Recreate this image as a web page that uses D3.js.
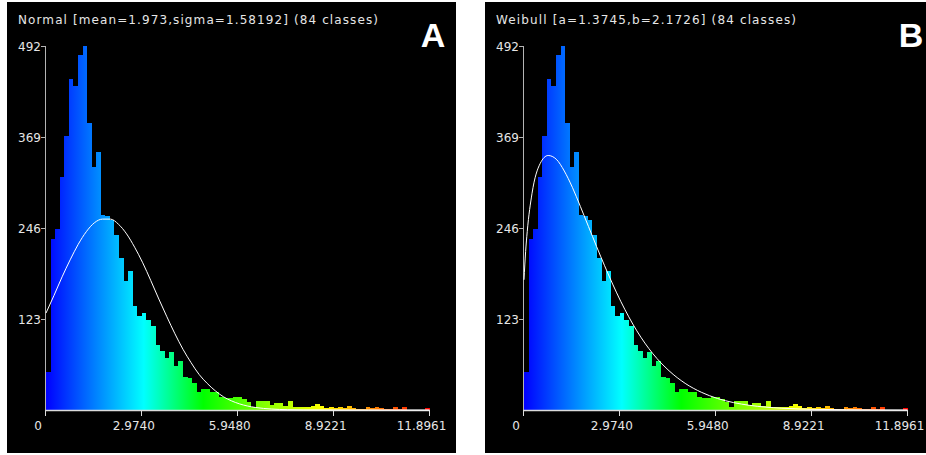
<!DOCTYPE html>
<html>
<head>
<meta charset="utf-8">
<script src="https://cdn.jsdelivr.net/npm/d3@7"></script>
<style>
  html, body { margin: 0; padding: 0; background: #ffffff; }
  svg { display: block; }
</style>
</head>
<body>
<svg id="chart" width="926" height="455"></svg>
<script>
// ---- data ----
const xMax = 11.8961;
const yMax = 492;
const classCount = 84;
const counts = [
  52, 231, 245, 315, 371, 447, 438, 480, 492, 388,
  329, 349, 264, 262, 257, 236, 205, 174, 188, 141,
  127, 131, 122, 113, 88, 80, 70, 78, 59, 66,
  45, 43, 36, 25, 29, 29, 24, 25, 18, 16,
  16, 17, 18, 15, 11, 4, 12, 12, 12, 7,
  9, 9, 5, 12, 4, 4, 4, 4, 5, 8,
  6, 3, 4, 3, 4, 3, 6, 3, 1, 1,
  4, 3, 4, 3, 1, 1, 4, 1, 4, 0,
  0, 0, 0, 3
];
const xTickValues = [0, 2.9740, 5.9480, 8.9221, 11.8961];
const xTickLabels = ["0", "2.9740", "5.9480", "8.9221", "11.8961"];
const yTickValues = [123, 246, 369, 492];
const yTickLabels = ["123", "246", "369", "492"];

// fitted curve A (normal)
const normalX = [0, 0.25, 0.5, 0.75, 1, 1.25, 1.5, 1.75, 2, 2.25, 2.5, 2.75, 3, 3.25, 3.5, 3.75, 4, 4.25, 4.5, 4.75, 5, 5.25, 5.5, 5.75, 6, 6.5, 7, 7.5, 8, 9, 10, 11, 11.8961];
const normalY = [131, 155, 180, 203, 224, 241, 253, 258, 258, 251, 238, 220, 199, 175, 150, 126, 103, 82, 64, 48, 36, 26, 18, 12.4, 8.3, 3.4, 1.3, 0.4, 0.1, 0, 0, 0, 0];

// fitted curve B (Weibull)
const weibullX = [0, 0.05, 0.1, 0.25, 0.5, 0.75, 1, 1.25, 1.5, 1.75, 2, 2.5, 3, 3.5, 4, 4.5, 5, 5.5, 6, 6.5, 7, 8, 9, 10, 11, 11.8961];
const weibullY = [176, 214, 241, 293, 333, 344, 339, 323, 301, 275, 248, 195, 147, 107, 76, 53, 36, 24, 15.6, 10, 6.3, 2.4, 0.9, 0.3, 0.1, 0];

const panels = [
  { id: "A", offset: 0, title: "Normal [mean=1.973,sigma=1.58192] (84 classes)", titleLen: 360, cx: normalX, cy: normalY },
  { id: "B", offset: 478, title: "Weibull [a=1.3745,b=2.1726] (84 classes)", titleLen: 300, cx: weibullX, cy: weibullY }
];

// ---- drawing ----
const svg = d3.select("#chart");
const x = d3.scaleLinear().domain([0, xMax]).range([46, 429.5]);
const y = d3.scaleLinear().domain([0, yMax]).range([410, 46]);
const bw = xMax / classCount;

const defs = svg.append("defs");
panels.forEach(p => {
  const grad = defs.append("linearGradient")
    .attr("id", "grad" + p.id)
    .attr("gradientUnits", "userSpaceOnUse")
    .attr("x1", x(0)).attr("x2", x(xMax)).attr("y1", 0).attr("y2", 0);
  const stops = [[0, "#0000ff"], [0.255, "#00ffff"], [0.41, "#00ff00"], [0.72, "#ffff00"], [1, "#ff0000"]];
  stops.forEach(s => grad.append("stop").attr("offset", s[0]).attr("stop-color", s[1]));
});

panels.forEach(p => {
  const g = svg.append("g").attr("transform", `translate(${p.offset},0)`);
  g.append("rect").attr("x", 7).attr("y", 2).attr("width", 449).attr("height", 451).attr("fill", "#000");

  g.append("text")
    .attr("x", 18).attr("y", 24)
    .attr("font-family", "DejaVu Sans, sans-serif")
    .attr("font-size", 12)
    .attr("fill", "#e6e6e6")
    .attr("textLength", p.titleLen)
    .attr("lengthAdjust", "spacing")
    .text(p.title);

  g.append("text")
    .attr("x", 433).attr("y", 47)
    .attr("text-anchor", "middle")
    .attr("font-family", "Liberation Sans, Arial, sans-serif")
    .attr("font-weight", "bold")
    .attr("font-size", 34)
    .attr("fill", "#ffffff")
    .text(p.id);

  // bars: integer pixel edges so neighbouring bars touch without seams
  g.append("g").attr("shape-rendering", "crispEdges")
    .selectAll("rect").data(counts).join("rect")
    .attr("x", (d, i) => Math.round(x(i * bw)))
    .attr("width", (d, i) => Math.round(x((i + 1) * bw)) - Math.round(x(i * bw)))
    .attr("y", d => Math.round(y(d)))
    .attr("height", d => 410 - Math.round(y(d)))
    .attr("fill", `url(#grad${p.id})`);

  // y axis
  g.append("line").attr("x1", 45.5).attr("x2", 45.5).attr("y1", y(yMax)).attr("y2", y(0) + 0.5)
    .attr("stroke", "#b4b4b4").attr("stroke-width", 1);
  const yt = g.append("g").selectAll("g").data(yTickValues).join("g");
  yt.append("line").attr("x1", 41).attr("x2", 45.5)
    .attr("y1", d => Math.round(y(d)) + 0.5).attr("y2", d => Math.round(y(d)) + 0.5)
    .attr("stroke", "#b4b4b4");
  yt.append("text").attr("x", 41).attr("y", d => y(d) + 4.5)
    .attr("text-anchor", "end")
    .attr("font-family", "DejaVu Sans, sans-serif").attr("font-size", 12)
    .attr("fill", "#e6e6e6")
    .text((d, i) => yTickLabels[i]);

  // x axis
  g.append("line").attr("x1", 45.5).attr("x2", x(xMax)).attr("y1", 410.5).attr("y2", 410.5)
    .attr("stroke", "#dcdcdc").attr("stroke-width", 1.5);
  const xt = g.append("g").selectAll("g").data(xTickValues).join("g");
  xt.append("line")
    .attr("x1", d => Math.round(x(d)) - 0.5).attr("x2", d => Math.round(x(d)) - 0.5)
    .attr("y1", 410).attr("y2", 416)
    .attr("stroke", "#dcdcdc");
  xt.append("text").attr("x", d => x(d) - 8).attr("y", 430)
    .attr("text-anchor", "middle")
    .attr("font-family", "DejaVu Sans, sans-serif").attr("font-size", 12)
    .attr("fill", "#e6e6e6")
    .text((d, i) => xTickLabels[i]);

  // fitted curve
  const pts = p.cx.map((v, i) => [v, p.cy[i]]);
  g.append("path")
    .datum(pts)
    .attr("fill", "none")
    .attr("stroke", "#ffffff")
    .attr("stroke-width", 1)
    .attr("d", d3.line().x(d => x(d[0])).y(d => y(d[1])).curve(d3.curveMonotoneX));
});
</script>
</body>
</html>
